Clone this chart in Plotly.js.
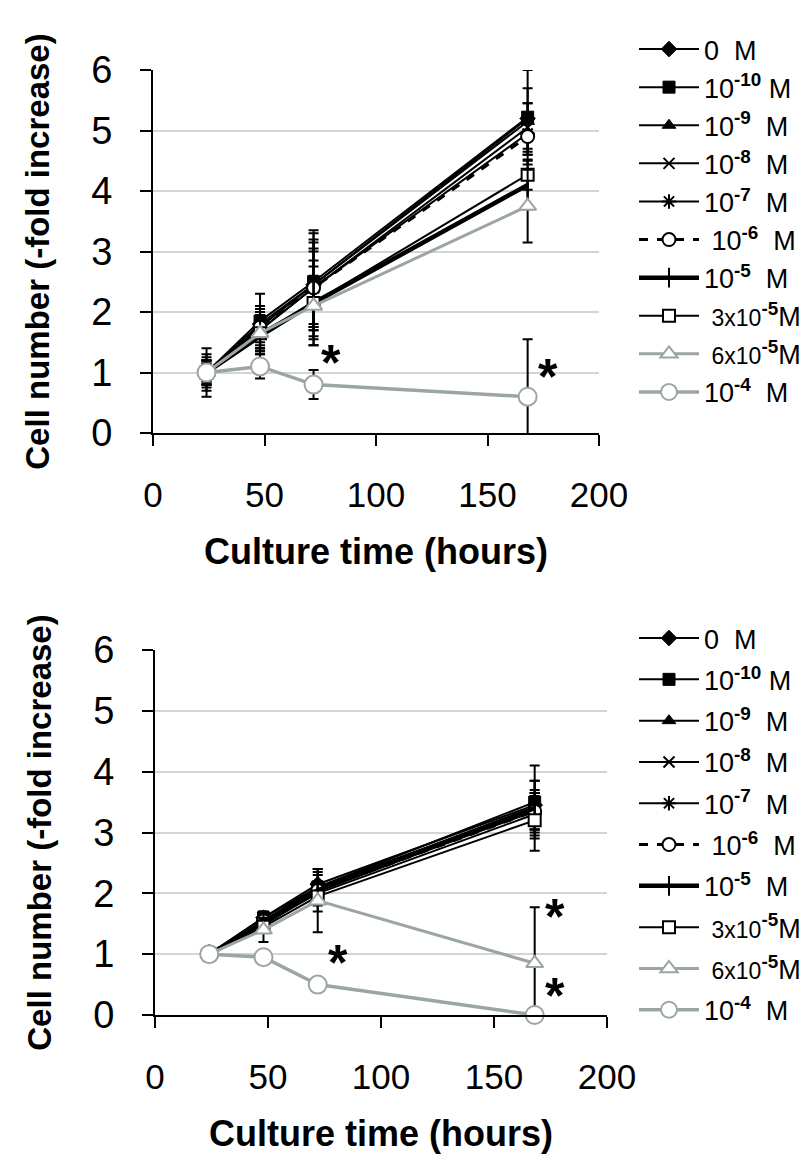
<!DOCTYPE html>
<html><head><meta charset="utf-8">
<script src="https://cdn.plot.ly/plotly-3.0.1.min.js"></script>
<style>html,body{margin:0;padding:0;background:#fff}#chart{width:804px;height:1169px}</style>
</head><body><div id="chart"></div>
<script>
// ---- shared categories ----
const hours = [24, 48, 72, 168];
const concLabels = [
  '0\u00a0\u00a0M',
  '10<sup><b>-10</b></sup>\u00a0M',
  '10<sup><b>-9</b></sup>\u00a0\u00a0M',
  '10<sup><b>-8</b></sup>\u00a0\u00a0M',
  '10<sup><b>-7</b></sup>\u00a0\u00a0M',
  '\u00a010<sup><b>-6</b></sup>\u00a0\u00a0M',
  '10<sup><b>-5</b></sup>\u00a0\u00a0M',
  '\u00a0<span style="font-size:23px">3x10</span><sup><b>-5</b></sup>M',
  '\u00a0<span style="font-size:23px">6x10</span><sup><b>-5</b></sup>M',
  '10<sup><b>-4</b></sup>\u00a0\u00a0M'
];
const xTicks = [0, 50, 100, 150, 200];
const yTicks = [0, 1, 2, 3, 4, 5, 6];

// ---- top panel: mean values and error (SD) ----
const top_0M      = [1.00, 1.80, 2.45, 5.20];  const top_0M_err      = [0.20, 0.30, 0.75, 0.50];
const top_1e10    = [1.00, 1.85, 2.50, 5.22];  const top_1e10_err    = [0.20, 0.45, 0.80, 0.78];
const top_1e9     = [1.00, 1.75, 2.45, 5.15];  const top_1e9_err     = [0.15, 0.35, 0.70, 0.30];
const top_1e8     = [1.00, 1.70, 2.40, 5.05];  const top_1e8_err     = [0.15, 0.30, 0.95, 0.40];
const top_1e7     = [1.00, 1.70, 2.40, 4.95];  const top_1e7_err     = [0.20, 0.30, 0.60, 0.35];
const top_1e6     = [1.00, 1.75, 2.40, 4.90];  const top_1e6_err     = [0.20, 0.30, 0.65, 0.30];
const top_1e5     = [1.00, 1.60, 2.15, 4.10];  const top_1e5_err     = [0.40, 0.25, 0.70, 0.40];
const top_3e5     = [1.00, 1.65, 2.15, 4.27];  const top_3e5_err     = [0.30, 0.35, 0.60, 0.25];
const top_6e5     = [1.00, 1.65, 2.10, 3.75];  const top_6e5_err     = [0.25, 0.30, 0.50, 0.60];
const top_1e4     = [1.00, 1.10, 0.80, 0.60];  const top_1e4_err     = [0.20, 0.20, 0.24, 0.95];

// ---- bottom panel: mean values and error (SD) ----
const bot_0M      = [1.00, 1.60, 2.15, 3.45];  const bot_0M_err      = [0.03, 0.10, 0.20, 0.40];
const bot_1e10    = [1.00, 1.60, 2.10, 3.50];  const bot_1e10_err    = [0.03, 0.10, 0.30, 0.60];
const bot_1e9     = [1.00, 1.55, 2.10, 3.40];  const bot_1e9_err     = [0.03, 0.08, 0.20, 0.45];
const bot_1e8     = [1.00, 1.50, 2.05, 3.35];  const bot_1e8_err     = [0.03, 0.08, 0.15, 0.30];
const bot_1e7     = [1.00, 1.50, 2.00, 3.30];  const bot_1e7_err     = [0.03, 0.08, 0.15, 0.30];
const bot_1e6     = [1.00, 1.55, 2.05, 3.35];  const bot_1e6_err     = [0.03, 0.08, 0.15, 0.30];
const bot_1e5     = [1.00, 1.50, 2.05, 3.40];  const bot_1e5_err     = [0.03, 0.08, 0.15, 0.25];
const bot_3e5     = [1.00, 1.45, 1.95, 3.20];  const bot_3e5_err     = [0.03, 0.10, 0.25, 0.50];
const bot_6e5     = [1.00, 1.40, 1.88, 0.85];  const bot_6e5_err     = [0.03, 0.20, 0.52, 0.92];
const bot_1e4     = [1.00, 0.95, 0.50, 0.00];  const bot_1e4_err     = [0.03, 0.04, 0.12, 0.00];

// significance marks (x in hours, y in fold)
const topStarX = [80, 177];   const topStarY = [1.15, 0.92];
const botStarX = [81, 177];   const botStarY = [0.85, 1.61];
const botStarX2 = [177];      const botStarY2 = [0.31];

const topMeans = [top_0M, top_1e10, top_1e9, top_1e8, top_1e7, top_1e6, top_1e5, top_3e5, top_6e5, top_1e4];
const topErrs  = [top_0M_err, top_1e10_err, top_1e9_err, top_1e8_err, top_1e7_err, top_1e6_err, top_1e5_err, top_3e5_err, top_6e5_err, top_1e4_err];
const botMeans = [bot_0M, bot_1e10, bot_1e9, bot_1e8, bot_1e7, bot_1e6, bot_1e5, bot_3e5, bot_6e5, bot_1e4];
const botErrs  = [bot_0M_err, bot_1e10_err, bot_1e9_err, bot_1e8_err, bot_1e7_err, bot_1e6_err, bot_1e5_err, bot_3e5_err, bot_6e5_err, bot_1e4_err];

// ---- styles ----
const GRAY = '#9ca6a1';
const styles = [
  {symbol:'diamond',      size:12, color:'#000', fill:'#000', lw:2,   dash:'solid', mlw:1},
  {symbol:'square',       size:12, color:'#000', fill:'#000', lw:2,   dash:'solid', mlw:1},
  {symbol:'triangle-up',  size:12, color:'#000', fill:'#000', lw:2,   dash:'solid', mlw:1},
  {symbol:'x-thin-open',  size:11, color:'#000', fill:'#000', lw:2,   dash:'solid', mlw:2},
  {symbol:'asterisk-open',size:12, color:'#000', fill:'#000', lw:2,   dash:'solid', mlw:2},
  {symbol:'circle',       size:13, color:'#000', fill:'#fff', lw:3,   dash:'dash',  mlw:2},
  {symbol:'line-ns-open', size:14, color:'#000', fill:'#000', lw:4.5, dash:'solid', mlw:2},
  {symbol:'square',       size:12, color:'#000', fill:'#fff', lw:2,   dash:'solid', mlw:2},
  {symbol:'triangle-up',  size:15, color:GRAY,   fill:'#fff', lw:3,   dash:'solid', mlw:2},
  {symbol:'circle',       size:18, color:GRAY,   fill:'#fff', lw:3.5, dash:'solid', mlw:2}
];

function makeTraces(means, errs, xa, ya, leg, prefix) {
  return means.map((m, i) => {
    const s = styles[i];
    return {
      type:'scatter', mode:'lines+markers', x:hours, y:m,
      name:concLabels[i], legend:leg, legendgroup:prefix + i,
      xaxis:xa, yaxis:ya,
      line:{color:s.color, width:s.lw, dash:s.dash},
      marker:{symbol:s.symbol, size:s.size, color:s.fill, line:{color:s.color, width:s.mlw}},
      error_y:{type:'data', array:errs[i], visible:true, color:'#000', thickness:2, width:5},
      cliponaxis:false
    };
  });
}

const traces = [].concat(
  makeTraces(topMeans, topErrs, 'x', 'y', 'legend', 't'),
  makeTraces(botMeans, botErrs, 'x2', 'y2', 'legend2', 'b')
);

function starAnns(xs, ys, xr, yr) {
  return xs.map((x, i) => ({x:x, y:ys[i], xref:xr, yref:yr, text:'<b>*</b>', showarrow:false,
    font:{size:50, color:'#000', family:'Liberation Sans, Arial, sans-serif'}}));
}

const FONT = 'Liberation Sans, Arial, sans-serif';

function xAxis(domain, anchor) {
  return {domain:domain, anchor:anchor, range:[0,200], tickvals:xTicks, ticktext:xTicks.map(String),
    ticks:'outside', ticklen:11, tickwidth:2, tickcolor:'#000',
    showline:true, linewidth:2, linecolor:'#000', showgrid:false, zeroline:false,
    tickfont:{size:35, family:FONT, color:'#000'}, ticklabelstandoff:19,
    title:{text:'<b>Culture time (hours)</b>', font:{size:36, family:FONT, color:'#000'}, standoff:26}};
}
function yAxis(domain, anchor) {
  return {domain:domain, anchor:anchor, range:[0,6], tickvals:yTicks, ticktext:yTicks.map(String),
    ticks:'outside', ticklen:11, tickwidth:2, tickcolor:'#000',
    showline:true, linewidth:2, linecolor:'#000', showgrid:true, gridcolor:'#d4d4d4', gridwidth:2, zeroline:false,
    tickfont:{size:38, family:FONT, color:'#000'}, ticklabelstandoff:20,
    title:{text:'<b>Cell number (-fold increase)</b>', font:{size:33, family:FONT, color:'#000'}, standoff:32}};
}

const W = 804, H = 1169;
const layout = {
  width:W, height:H, margin:{l:0, r:0, t:0, b:0, autoexpand:false},
  paper_bgcolor:'#fff', plot_bgcolor:'#fff',
  font:{family:FONT, color:'#000'},
  xaxis:  xAxis([153/W, 599/W], 'y'),
  yaxis:  yAxis([1-433/H, 1-70/H], 'x'),
  xaxis2: xAxis([155/W, 607/W], 'y2'),
  yaxis2: yAxis([1-1015/H, 1-650/H], 'x2'),
  legend: {x:634/W, y:1-25/H, xanchor:'left', yanchor:'top', font:{size:27, family:FONT, color:'#000'},
    itemwidth:60, traceorder:'grouped', tracegroupgap:0, bgcolor:'rgba(0,0,0,0)', borderwidth:0},
  legend2:{x:634/W, y:1-614/H, xanchor:'left', yanchor:'top', font:{size:27, family:FONT, color:'#000'},
    itemwidth:60, traceorder:'grouped', tracegroupgap:3.2, bgcolor:'rgba(0,0,0,0)', borderwidth:0},
  annotations: [].concat(
    starAnns(topStarX, topStarY, 'x', 'y'),
    starAnns(botStarX, botStarY, 'x2', 'y2'),
    starAnns(botStarX2, botStarY2, 'x2', 'y2')
  )
};

Plotly.newPlot('chart', traces, layout, {staticPlot:true, displayModeBar:false});
</script>
</body></html>
